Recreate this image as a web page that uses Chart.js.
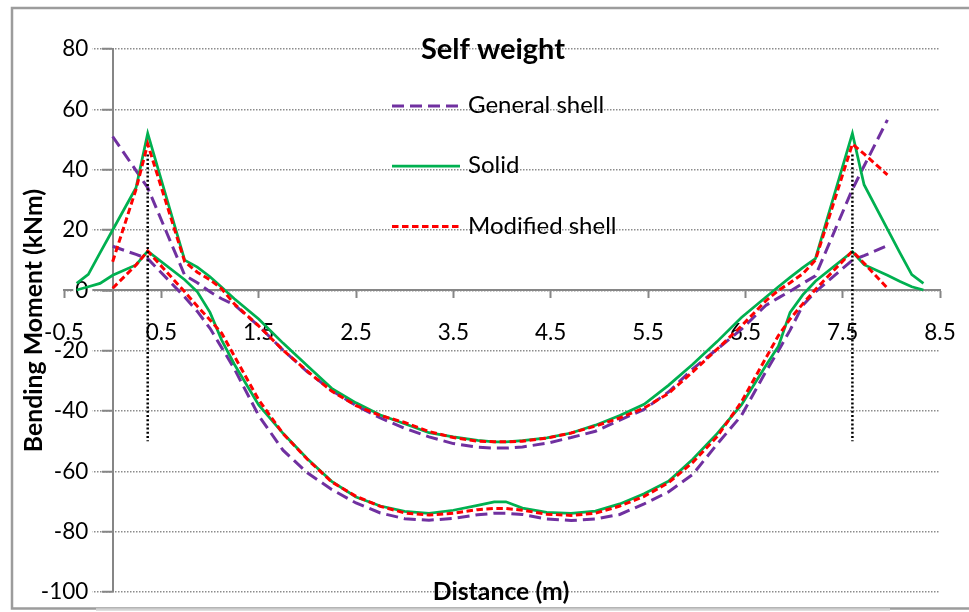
<!DOCTYPE html>
<html>
<head>
<meta charset="utf-8">
<script src="https://cdn.jsdelivr.net/npm/chart.js@4.4.1/dist/chart.umd.min.js"></script>
<style>
  html, body { margin: 0; padding: 0; background: #ffffff; }
  #wrap { width: 969px; height: 612px; position: relative; }
</style>
</head>
<body>
<div id="wrap"><canvas id="chart" width="969" height="612"></canvas></div>
<script>
// ---- text ----
const chartTitle = 'Self weight';
const xAxisTitle = 'Distance (m)';
const yAxisTitle = 'Bending Moment (kNm)';
const seriesNames = ['General shell', 'Solid', 'Modified shell'];

// ---- axes ----
const xTicks = [-0.5, 0.5, 1.5, 2.5, 3.5, 4.5, 5.5, 6.5, 7.5, 8.5];
const yTicks = [-100, -80, -60, -40, -20, 0, 20, 40, 60, 80];

// ---- stations along the span (m) ----
const shellStations = [0, 0.24, 0.36, 0.74, 0.87, 1.0, 1.12, 1.25, 1.5, 1.75, 2.0, 2.25, 2.5, 2.75,
  3.0, 3.25, 3.5, 3.75, 3.92, 4.04, 4.21, 4.46, 4.71, 4.96, 5.21, 5.46, 5.71, 5.96, 6.21, 6.46,
  6.71, 6.84, 6.96, 7.09, 7.22, 7.6, 7.72, 7.96];
const solidStations = [-0.37, -0.25, -0.13].concat(shellStations, [8.09, 8.21, 8.33]);

// ---- bending moments (kNm): column strip (top) and mid strip (bottom) ----
const generalTop = [51, 39.7, 34, 5, 2.5, -0.5, -2.8, -4.8, -11.8, -19.8, -27, -33.2, -38.2, -42.3,
  -45.7, -48.6, -50.8, -52, -52.3, -52.3, -51.9, -50.7, -48.8, -46.7, -43, -39.5, -33.7, -26, -19.5, -12.9,
  -5, -2.5, -0.3, 2.3, 4.8, 33.5, 41.2, 56.5];
const generalBottom = [14.6, 11.9, 10.5, -2.2, -7, -12.6, -19, -26, -41.5, -53, -60.5, -66, -70.5, -73.8,
  -75.7, -76.2, -75.6, -74.4, -73.9, -73.9, -74.3, -75.8, -76.3, -75.8, -74.3, -70.8, -66.8, -61, -51, -41.5,
  -27, -20, -13.2, -5, -0.5, 10, 11.5, 14.8];
const modifiedTop = [9.5, 33.5, 48.5, 9.5, 6, 3.5, 0.5, -4.5, -11.8, -19.8, -26.8, -33.4, -38.2, -41.5,
  -43.8, -46.8, -48.8, -50, -50.2, -50.2, -50, -49, -47.3, -45, -42.3, -39, -34.2, -27, -19.5, -11.8,
  -3.5, 0, 2.5, 5.5, 10, 48.5, 45.2, 38.3];
const modifiedBottom = [0.7, 8.4, 13, -0.5, -5.3, -9.8, -14.2, -21.8, -36.3, -47.5, -56, -63.5, -68.3, -71.6,
  -73.8, -74.5, -73.9, -72.7, -72.3, -72.3, -72.9, -74.2, -74.6, -73.9, -71.5, -68.3, -63.8, -57, -48.5, -37,
  -22.5, -15, -9.5, -4.5, 0.3, 13, 9, 0.7];
const solidTop = [2.3, 5.3, 12.4, 20, 34, 52, 10, 7.7, 4.5, 1.0, -2.8, -9.5, -17.5, -25, -32.5, -37.3, -41.3,
  -44.2, -47.2, -48.6, -49.7, -50.2, -50.2, -49.8, -48.9, -47.3, -44.7, -41.5, -37.8, -31.5, -24.5, -17, -9,
  -2.3, 1.2, 4.3, 7.5, 10.5, 52, 35, 20.3, 12.3, 5.2, 2.3];
const solidBottom = [0.1, 1.2, 2.3, 5, 8.4, 13, 3.5, -0.5, -7.3, -16.5, -24.5, -38, -47.4, -55.8, -63.3, -68.5,
  -71.5, -73.3, -73.9, -72.9, -71.3, -70.1, -70.1, -72.2, -73.6, -73.9, -73.2, -70.8, -67.4, -63.3, -56, -47.5,
  -38, -25, -18.5, -7.3, -1.5, 3, 12.8, 8.5, 5, 2.9, 1.2, 0.1];

// ---- column centre lines ----
const columnX = [0.36, 7.6];
const columnRange = [45, -50];

// Two branches of one series, separated by a gap
function twoBranches(xs, upper, lower) {
  const a = xs.map((x, i) => ({ x: x, y: upper[i] }));
  const b = xs.map((x, i) => ({ x: x, y: lower[i] }));
  return a.concat([{ x: xs[xs.length - 1], y: null }], b);
}
function columnMarks() {
  const pts = [];
  columnX.forEach((x, i) => {
    if (i > 0) pts.push({ x: x, y: null });
    pts.push({ x: x, y: columnRange[0] }, { x: x, y: columnRange[1] });
  });
  return pts;
}

const datasets = [
  { label: seriesNames[0], data: twoBranches(shellStations, generalTop, generalBottom),
    borderColor: '#7030A0', borderWidth: 3, borderDash: [12, 6], order: 3, inLegend: true },
  { label: seriesNames[1], data: twoBranches(solidStations, solidTop, solidBottom),
    borderColor: '#00B050', borderWidth: 2.75, borderDash: [], order: 2, inLegend: true },
  { label: seriesNames[2], data: twoBranches(shellStations, modifiedTop, modifiedBottom),
    borderColor: '#FF0000', borderWidth: 3, borderDash: [6.5, 3.5], order: 1, inLegend: true },
  { label: 'column', data: columnMarks(),
    borderColor: '#000000', borderWidth: 2.5, borderDash: [2, 2.2], order: 0, inLegend: false }
];
datasets.forEach(d => {
  d.showLine = true; d.pointRadius = 0; d.pointHoverRadius = 0; d.spanGaps = false;
  d.fill = false; d.tension = 0; d.backgroundColor = d.borderColor;
  d.xAxisID = 'x'; d.yAxisID = 'y';
});

const FONT = 'Lato, "Open Sans", "DejaVu Sans", sans-serif';
const AXIS_GREY = '#868686';

// Frame, title, legend and axis titles
const decorations = {
  id: 'decorations',
  afterDraw(chart) {
    const ctx = chart.ctx;
    ctx.save();
    // outer frame
    ctx.strokeStyle = '#9c9c9c';
    ctx.lineWidth = 2.5;
    ctx.beginPath();
    ctx.moveTo(971, 8); ctx.lineTo(12, 8); ctx.lineTo(12, 608.5); ctx.lineTo(971, 608.5);
    ctx.stroke();
    ctx.strokeStyle = '#d4d4d4';
    ctx.beginPath(); ctx.moveTo(96, 609.5); ctx.lineTo(890, 609.5); ctx.stroke();

    ctx.fillStyle = '#000000';
    // chart title
    ctx.font = 'bold 29px ' + FONT;
    ctx.textAlign = 'center';
    ctx.textBaseline = 'alphabetic';
    ctx.fillText(chartTitle, 493, 59);

    // legend
    const rows = [106, 166, 226.5];
    const entries = chart.data.datasets.filter(d => d.inLegend);
    ctx.font = '24px ' + FONT;
    ctx.textAlign = 'left';
    entries.forEach((d, i) => {
      const y = rows[i];
      ctx.save();
      ctx.strokeStyle = d.borderColor;
      ctx.lineWidth = d.borderWidth;
      ctx.setLineDash(d.borderDash || []);
      ctx.beginPath(); ctx.moveTo(392, y); ctx.lineTo(460, y); ctx.stroke();
      ctx.restore();
      ctx.fillText(d.label, 468, y + 7);
    });

    // axis titles
    ctx.font = 'bold 24.8px ' + FONT;
    ctx.textAlign = 'center';
    ctx.fillText(xAxisTitle, 501, 600);
    ctx.translate(41.5, 320.5);
    ctx.rotate(-Math.PI / 2);
    ctx.fillText(yAxisTitle, 0, 0);
    ctx.restore();
  }
};

const tickFont = { family: FONT, size: 22.5 };
// axes drawn through the plot: they take no layout room of their own
const flatX = s => { s.height = 0; s.paddingLeft = 0; s.paddingRight = 0; };
const flatY = s => { s.width = 0; s.paddingTop = 0; s.paddingBottom = 0; };

const chart = new Chart(document.getElementById('chart'), {
  type: 'scatter',
  data: { datasets: datasets },
  options: {
    responsive: false,
    animation: false,
    events: [],
    layout: { padding: { left: 64, right: 29, top: 49, bottom: 20 } },
    plugins: { legend: { display: false }, title: { display: false }, tooltip: { enabled: false } },
    scales: {
      x: {
        type: 'linear', min: -0.5, max: 8.5,
        position: { y: 0 },
        afterBuildTicks: s => { s.ticks = xTicks.map(v => ({ value: v })); },
        afterFit: flatX,
        grid: { drawOnChartArea: false, drawTicks: true, tickLength: 7, tickColor: AXIS_GREY, tickWidth: 2 },
        border: { color: AXIS_GREY, width: 2 },
        ticks: { font: tickFont, color: '#000000', padding: 22,
                 maxRotation: 0, autoSkip: false, callback: v => String(v) }
      },
      // value axis through x = 0: gridlines, tick marks and axis line
      y: {
        type: 'linear', min: -100, max: 80,
        position: { x: 0 },
        afterBuildTicks: s => { s.ticks = yTicks.map(v => ({ value: v })); },
        afterFit: flatY,
        grid: { color: '#8c8c8c', lineWidth: 1.5, tickLength: 10, tickColor: AXIS_GREY, tickWidth: 2, tickBorderDash: [] },
        border: { color: AXIS_GREY, width: 2, dash: [1.5, 1.5] },
        ticks: { display: false }
      },
      // same value axis, carrying its labels to the left of the tick marks
      yLabels: {
        type: 'linear', axis: 'y', min: -100, max: 80,
        position: { x: -0.25 },
        afterBuildTicks: s => { s.ticks = yTicks.map(v => ({ value: v })); },
        afterFit: flatY,
        grid: { display: false },
        border: { display: false },
        ticks: { font: tickFont, color: '#000000', padding: 0,
                 showLabelBackdrop: true, backdropColor: '#ffffff',
                 backdropPadding: { left: 2, right: 4, top: -6, bottom: -6 },
                 callback: v => String(v) }
      }
    }
  },
  plugins: [decorations]
});

// Settle the plot box at 64..940 x 49..592 px
const plotBox = { left: 64, top: 49, right: 940, bottom: 592 };
for (let k = 0; k < 4; k++) {
  const a = chart.chartArea;
  const p = Object.assign({}, chart.options.layout.padding);
  const dl = plotBox.left - a.left, dt = plotBox.top - a.top;
  const dr = a.right - plotBox.right, db = a.bottom - plotBox.bottom;
  if (Math.abs(dl) + Math.abs(dt) + Math.abs(dr) + Math.abs(db) < 0.25) break;
  chart.options.layout.padding = { left: p.left + dl, top: p.top + dt, right: p.right + dr, bottom: p.bottom + db };
  chart.update();
}
</script>
</body>
</html>
